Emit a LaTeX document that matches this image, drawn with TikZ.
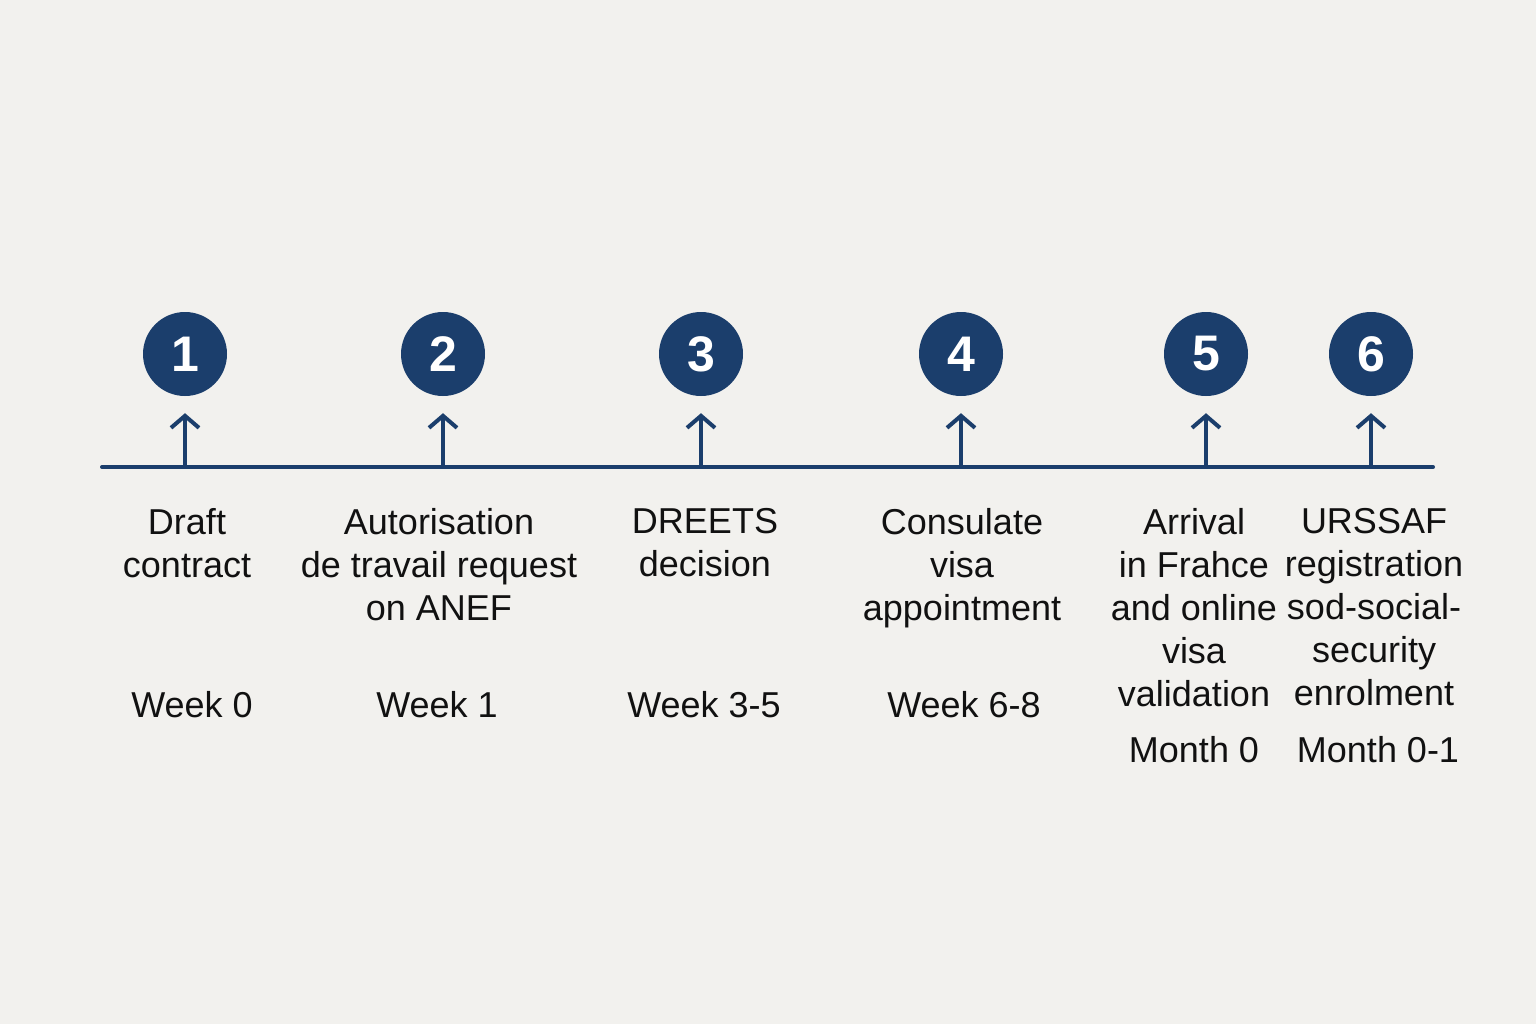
\documentclass[tikz,border=0pt]{standalone}
\usepackage{fontspec}
\setmainfont{Liberation Sans}
\usetikzlibrary{arrows.meta}
\definecolor{navy}{RGB}{27,62,108}
\definecolor{bgc}{RGB}{242,241,238}
\definecolor{ink}{RGB}{17,17,17}
\tikzset{
  numcirc/.style={circle, fill=navy, minimum size=84pt, inner sep=0pt, text=white, font=\fontsize{50}{50}\selectfont\bfseries},
  stepline/.style={draw=navy, line width=4pt, line cap=round},
  tickarrow/.style={draw=navy, line width=4pt, -{Straight Barb[length=12pt,width=28pt,line width=4pt]}, shorten >=17pt},
  steplabel/.style={anchor=north, align=center, inner sep=0pt, text=ink, font=\fontsize{36}{43}\selectfont},
  timelabel/.style={anchor=center, inner sep=0pt, text=ink, font=\fontsize{36}{43}\selectfont}
}
\begin{document}
\begin{tikzpicture}[x=1pt,y=-1pt]
\fill[bgc] (0,0) rectangle (1536,1024);
\useasboundingbox (0,0) rectangle (1536,1024);
% timeline
\coordinate (L) at (102,467);
\coordinate (R) at (1433,467);
\draw[stepline] (L) -- (R);
% circles
\node[numcirc] (c1) at (185,354) {1};
\node[numcirc] (c2) at (443,354) {2};
\node[numcirc] (c3) at (701,354) {3};
\node[numcirc] (c4) at (961,354) {4};
\node[numcirc] (c5) at (1206,354) {5};
\node[numcirc] (c6) at (1371,354) {6};
% base points
\coordinate (b1) at (185,467);
\coordinate (b2) at (443,467);
\coordinate (b3) at (701,467);
\coordinate (b4) at (961,467);
\coordinate (b5) at (1206,467);
\coordinate (b6) at (1371,467);
\foreach \i in {1,...,6} { \draw[tickarrow] (b\i) -- (c\i); }
% labels
\node[steplabel] (t1) at (187,508) {Draft\\contract};
\node[steplabel] (t2) at (439,508) {Autorisation\\de travail request\\on ANEF};
\node[steplabel] (t3) at (705,508) {DREETS\\decision};
\node[steplabel] (t4) at (962,508) {Consulate\\visa\\appointment};
\node[steplabel] (t5) at (1194,508) {Arrival\\in Frahce\\and online\\visa\\validation};
\node[steplabel] (t6) at (1374,508) {URSSAF\\registration\\sod-social-\\security\\enrolment};
% times
\node[timelabel] (w1) at (192,705) {Week 0};
\node[timelabel] (w2) at (437,705) {Week 1};
\node[timelabel] (w3) at (704,705) {Week 3-5};
\node[timelabel] (w4) at (964,705) {Week 6-8};
\node[timelabel] (m5) at (1194,750) {Month 0};
\node[timelabel] (m6) at (1378,750) {Month 0-1};
\end{tikzpicture}
\end{document}
